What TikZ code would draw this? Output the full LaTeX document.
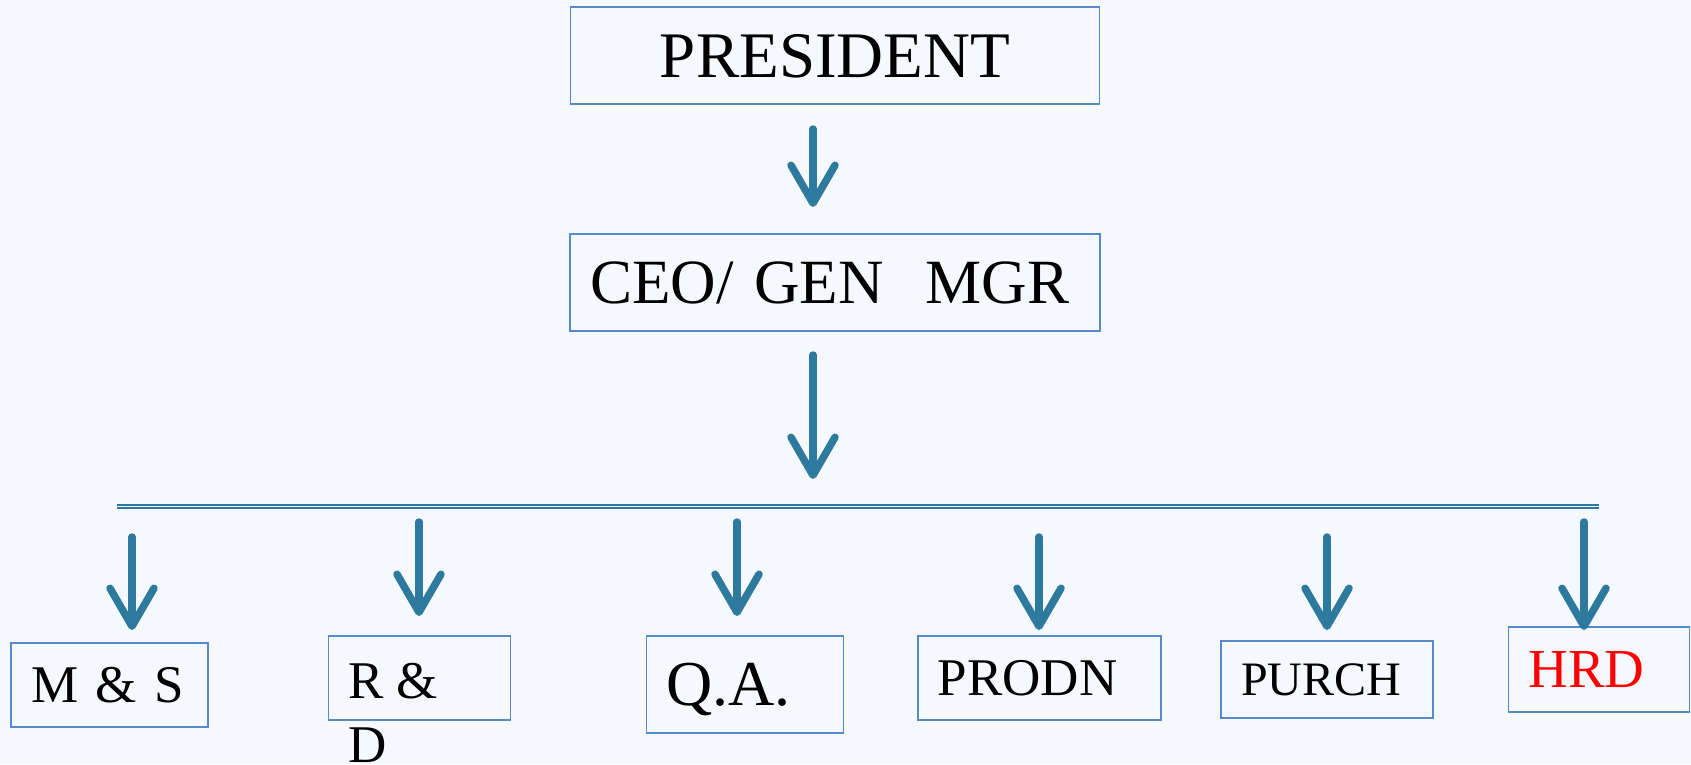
\documentclass[tikz,border=0pt]{standalone}
\usepackage{fontspec}
\setmainfont{Liberation Serif}
\usetikzlibrary{arrows.meta}
\definecolor{bg}{RGB}{245,249,253}
\definecolor{boxblue}{RGB}{88,138,203}
\definecolor{arrowblue}{RGB}{46,122,158}
\begin{document}
\begin{tikzpicture}[x=1pt,y=-1pt,
  box/.style={draw=boxblue, line width=1.6pt, inner xsep=20pt, inner ysep=0pt, align=left},
  fsA/.style={font=\fontsize{65}{78}\selectfont, text height=43pt, text depth=0pt},
  fsB/.style={font=\fontsize{63}{76}\selectfont, text height=42pt, text depth=0pt},
  fsQ/.style={font=\fontsize{64}{77}\selectfont, text height=42pt, text depth=0pt},
  fsS/.style={font=\fontsize{53}{64}\selectfont, text height=35pt, text depth=0pt},
  fsP/.style={font=\fontsize{48}{58}\selectfont, text height=32pt, text depth=0pt},
  fsH/.style={font=\fontsize{55}{66}\selectfont, text height=36pt, text depth=0pt},
  down/.style={draw=arrowblue, line width=7.5pt, line cap=round,
    -{Straight Barb[length=38pt, width=44pt, round]}},
  bus/.style={draw=arrowblue, double=bg, double distance=1.6pt, line width=1.4pt},
]
\fill[bg] (0,0) rectangle (1691,764);
\useasboundingbox (0,0) rectangle (1691,764);

% boxes
\node[box,fsA,align=center,text width=489pt,minimum height=97pt] (pres) at (835,55.5) {PRESIDENT};
\node[box,fsB,text width=490pt,minimum height=97pt] (ceo) at (835,282.5) {\mbox{CEO/ GEN\ \ MGR}};
\node[box,fsS,text width=157pt,minimum height=84pt] (ms) at (109.5,685) {\mbox{M \& S}};
\node[box,minimum width=182pt,minimum height=84pt] (rd) at (419.6,678) {};
\node[font=\fontsize{53}{64}\selectfont, anchor=north west, inner sep=0pt, align=left] (rdtext) at (348,663) {R \&\\D};
\node[box,fsQ,text width=157pt,minimum height=97pt] (qa) at (744.8,684.5) {Q.A.};
\node[box,fsS,text width=203pt,minimum height=84pt] (prodn) at (1039.4,678) {PRODN};
\node[box,fsP,text width=172pt,minimum height=77pt] (purch) at (1327,679.5) {PURCH};
\node[box,fsH,text=red,text width=141pt,minimum height=85pt] (hrd) at (1599,669.5) {HRD};

% bus line
\coordinate (hl) at (117,506.5);
\coordinate (hr) at (1599,506.5);
\draw[bus] (hl) -- (hr);

% arrows
\coordinate (a1s) at (813,129);  \coordinate (a1e) at (813,207);
\coordinate (a2s) at (813,355);  \coordinate (a2e) at (813,479);
\coordinate (ams) at (132,537);  \coordinate (ame) at (132,630);
\coordinate (ars) at (419,522);  \coordinate (are) at (419,616);
\coordinate (aqs) at (737,522);  \coordinate (aqe) at (737,616);
\coordinate (aps) at (1039,537); \coordinate (ape) at (1039,630);
\coordinate (aus) at (1327,537); \coordinate (aue) at (1327,630);
\coordinate (ahs) at (1584,522); \coordinate (ahe) at (1584,630);
\draw[down] (a1s) -- (a1e);
\draw[down] (a2s) -- (a2e);
\draw[down] (ams) -- (ame);
\draw[down] (ars) -- (are);
\draw[down] (aqs) -- (aqe);
\draw[down] (aps) -- (ape);
\draw[down] (aus) -- (aue);
\draw[down] (ahs) -- (ahe);
\end{tikzpicture}
\end{document}
